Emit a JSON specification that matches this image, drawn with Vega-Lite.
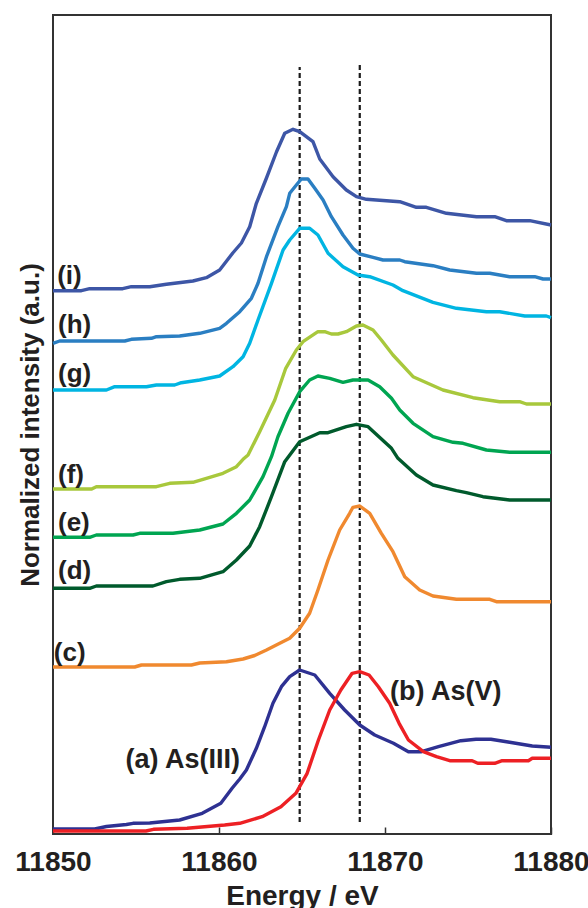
{
  "$schema": "https://vega.github.io/schema/vega-lite/v6.json",
  "width": 498,
  "height": 819,
  "autosize": {"type": "none"},
  "padding": {"left": 53, "top": 15, "right": 37, "bottom": 74},
  "background": "white",
  "config": {
    "view": {"stroke": "#333333", "strokeWidth": 2},
    "font": "Liberation Sans"
  },
  "datasets": {
    "curves": [
      {"s":"i","E":11850.00,"v":543.3},{"s":"i","E":11851.71,"v":543.3},{"s":"i","E":11852.21,"v":545.3},{"s":"i","E":11854.20,"v":545.3},{"s":"i","E":11854.72,"v":547.3},{"s":"i","E":11855.83,"v":547.3},{"s":"i","E":11856.83,"v":549.7},{"s":"i","E":11858.43,"v":553},{"s":"i","E":11859.24,"v":556.3},{"s":"i","E":11860.04,"v":564},{"s":"i","E":11860.83,"v":581},{"s":"i","E":11861.35,"v":591},{"s":"i","E":11861.85,"v":607.3},{"s":"i","E":11862.25,"v":630.7},{"s":"i","E":11862.86,"v":656},{"s":"i","E":11863.46,"v":682},{"s":"i","E":11863.96,"v":700.7},{"s":"i","E":11864.46,"v":704.7},{"s":"i","E":11864.86,"v":702.3},{"s":"i","E":11865.66,"v":692.3},{"s":"i","E":11866.07,"v":675},{"s":"i","E":11866.87,"v":657.3},{"s":"i","E":11867.67,"v":644},{"s":"i","E":11868.28,"v":637.3},{"s":"i","E":11868.88,"v":634.7},{"s":"i","E":11869.48,"v":634},{"s":"i","E":11870.89,"v":632.3},{"s":"i","E":11871.89,"v":626.7},{"s":"i","E":11872.49,"v":626.7},{"s":"i","E":11873.70,"v":620.7},{"s":"i","E":11875.51,"v":617.3},{"s":"i","E":11876.61,"v":617.3},{"s":"i","E":11877.31,"v":613.3},{"s":"i","E":11878.72,"v":613.3},{"s":"i","E":11880.00,"v":609},
      {"s":"h","E":11850.00,"v":490.7},{"s":"h","E":11850.40,"v":493},{"s":"h","E":11854.32,"v":493},{"s":"h","E":11854.72,"v":494.7},{"s":"h","E":11855.93,"v":495.7},{"s":"h","E":11856.23,"v":497.3},{"s":"h","E":11857.63,"v":498},{"s":"h","E":11858.84,"v":500.7},{"s":"h","E":11860.04,"v":505.7},{"s":"h","E":11860.45,"v":510.7},{"s":"h","E":11861.25,"v":522.3},{"s":"h","E":11861.95,"v":535.7},{"s":"h","E":11862.35,"v":550.7},{"s":"h","E":11862.86,"v":577.3},{"s":"h","E":11863.55,"v":607.3},{"s":"h","E":11864.06,"v":627.3},{"s":"h","E":11864.26,"v":640.7},{"s":"h","E":11864.66,"v":649},{"s":"h","E":11864.96,"v":655},{"s":"h","E":11865.36,"v":655},{"s":"h","E":11865.77,"v":645.7},{"s":"h","E":11866.27,"v":634},{"s":"h","E":11866.77,"v":617.3},{"s":"h","E":11867.47,"v":599},{"s":"h","E":11868.07,"v":585.7},{"s":"h","E":11868.48,"v":580},{"s":"h","E":11869.28,"v":576.7},{"s":"h","E":11869.88,"v":574},{"s":"h","E":11870.89,"v":574},{"s":"h","E":11871.19,"v":572.3},{"s":"h","E":11872.89,"v":568.3},{"s":"h","E":11873.90,"v":564},{"s":"h","E":11875.51,"v":560.7},{"s":"h","E":11876.31,"v":560.7},{"s":"h","E":11877.51,"v":557.3},{"s":"h","E":11879.02,"v":557.3},{"s":"h","E":11879.52,"v":555},{"s":"h","E":11880.00,"v":555},
      {"s":"g","E":11850.00,"v":444},{"s":"g","E":11853.22,"v":444},{"s":"g","E":11853.72,"v":447.3},{"s":"g","E":11855.63,"v":447.3},{"s":"g","E":11856.23,"v":449},{"s":"g","E":11857.33,"v":449},{"s":"g","E":11857.73,"v":451.3},{"s":"g","E":11858.84,"v":454},{"s":"g","E":11860.04,"v":458},{"s":"g","E":11860.84,"v":467.3},{"s":"g","E":11861.45,"v":477.3},{"s":"g","E":11861.85,"v":490.7},{"s":"g","E":11862.35,"v":514},{"s":"g","E":11863.16,"v":550.7},{"s":"g","E":11863.86,"v":584},{"s":"g","E":11864.26,"v":594},{"s":"g","E":11864.86,"v":605.7},{"s":"g","E":11865.46,"v":605.7},{"s":"g","E":11865.96,"v":599},{"s":"g","E":11866.57,"v":580.7},{"s":"g","E":11867.47,"v":567.3},{"s":"g","E":11868.37,"v":559},{"s":"g","E":11869.08,"v":557.3},{"s":"g","E":11870.48,"v":549},{"s":"g","E":11871.08,"v":543.3},{"s":"g","E":11872.89,"v":531.7},{"s":"g","E":11874.30,"v":525.7},{"s":"g","E":11876.11,"v":522.3},{"s":"g","E":11876.91,"v":522.3},{"s":"g","E":11878.42,"v":518},{"s":"g","E":11879.72,"v":518},{"s":"g","E":11880.00,"v":516.3},
      {"s":"f","E":11850.00,"v":345},{"s":"f","E":11852.33,"v":345},{"s":"f","E":11852.61,"v":347.3},{"s":"f","E":11856.23,"v":347.3},{"s":"f","E":11857.03,"v":350.7},{"s":"f","E":11858.43,"v":351.7},{"s":"f","E":11859.24,"v":355.7},{"s":"f","E":11860.24,"v":360.7},{"s":"f","E":11861.05,"v":367.3},{"s":"f","E":11861.45,"v":374.7},{"s":"f","E":11861.75,"v":379},{"s":"f","E":11862.45,"v":402.3},{"s":"f","E":11863.36,"v":434},{"s":"f","E":11864.02,"v":465.7},{"s":"f","E":11864.66,"v":484},{"s":"f","E":11865.06,"v":492.3},{"s":"f","E":11865.96,"v":502.3},{"s":"f","E":11866.37,"v":502.3},{"s":"f","E":11866.77,"v":500},{"s":"f","E":11867.17,"v":500},{"s":"f","E":11867.67,"v":502.3},{"s":"f","E":11868.28,"v":508},{"s":"f","E":11868.67,"v":509},{"s":"f","E":11869.28,"v":504},{"s":"f","E":11869.78,"v":494},{"s":"f","E":11870.48,"v":479},{"s":"f","E":11871.69,"v":457.3},{"s":"f","E":11873.49,"v":444},{"s":"f","E":11875.30,"v":436.3},{"s":"f","E":11876.91,"v":432.3},{"s":"f","E":11878.11,"v":432.3},{"s":"f","E":11878.52,"v":430},{"s":"f","E":11880.00,"v":430},
      {"s":"e","E":11850.00,"v":296.7},{"s":"e","E":11852.21,"v":296.7},{"s":"e","E":11852.61,"v":299},{"s":"e","E":11854.82,"v":299},{"s":"e","E":11855.22,"v":300.7},{"s":"e","E":11857.23,"v":300.7},{"s":"e","E":11858.84,"v":304},{"s":"e","E":11860.24,"v":310},{"s":"e","E":11861.05,"v":320.7},{"s":"e","E":11861.85,"v":334},{"s":"e","E":11862.65,"v":357.3},{"s":"e","E":11863.16,"v":377.3},{"s":"e","E":11863.55,"v":397.3},{"s":"e","E":11864.16,"v":420.7},{"s":"e","E":11864.86,"v":442.3},{"s":"e","E":11865.46,"v":454},{"s":"e","E":11865.96,"v":458},{"s":"e","E":11866.67,"v":455.7},{"s":"e","E":11867.47,"v":451.7},{"s":"e","E":11868.07,"v":454},{"s":"e","E":11868.98,"v":454},{"s":"e","E":11869.68,"v":447.3},{"s":"e","E":11870.39,"v":435.7},{"s":"e","E":11870.89,"v":424},{"s":"e","E":11871.69,"v":410.7},{"s":"e","E":11872.89,"v":397.3},{"s":"e","E":11874.10,"v":391.7},{"s":"e","E":11874.70,"v":390.7},{"s":"e","E":11876.11,"v":384},{"s":"e","E":11877.51,"v":381.7},{"s":"e","E":11880.00,"v":381.7},
      {"s":"d","E":11850.00,"v":245.7},{"s":"d","E":11852.21,"v":245.7},{"s":"d","E":11852.61,"v":248},{"s":"d","E":11856.02,"v":248},{"s":"d","E":11856.83,"v":252.3},{"s":"d","E":11857.63,"v":254.7},{"s":"d","E":11858.84,"v":255.7},{"s":"d","E":11860.24,"v":262.3},{"s":"d","E":11861.05,"v":274},{"s":"d","E":11861.85,"v":288},{"s":"d","E":11862.45,"v":307.3},{"s":"d","E":11863.16,"v":337.3},{"s":"d","E":11863.96,"v":372.3},{"s":"d","E":11864.86,"v":392.3},{"s":"d","E":11866.07,"v":401.3},{"s":"d","E":11866.57,"v":401.3},{"s":"d","E":11867.67,"v":407.3},{"s":"d","E":11868.28,"v":409.7},{"s":"d","E":11868.98,"v":407.3},{"s":"d","E":11870.39,"v":385.7},{"s":"d","E":11870.78,"v":375.7},{"s":"d","E":11871.89,"v":359},{"s":"d","E":11872.89,"v":349},{"s":"d","E":11874.30,"v":343.3},{"s":"d","E":11874.90,"v":341.3},{"s":"d","E":11875.90,"v":337.3},{"s":"d","E":11877.51,"v":334},{"s":"d","E":11880.00,"v":334},
      {"s":"c","E":11850.00,"v":167},{"s":"c","E":11854.92,"v":167},{"s":"c","E":11855.33,"v":169},{"s":"c","E":11858.34,"v":169},{"s":"c","E":11858.84,"v":171},{"s":"c","E":11860.45,"v":172.3},{"s":"c","E":11861.45,"v":175},{"s":"c","E":11862.15,"v":178.5},{"s":"c","E":11862.86,"v":184},{"s":"c","E":11863.66,"v":190.7},{"s":"c","E":11864.26,"v":195.7},{"s":"c","E":11864.86,"v":205.7},{"s":"c","E":11865.46,"v":220.7},{"s":"c","E":11865.96,"v":244},{"s":"c","E":11866.57,"v":274},{"s":"c","E":11867.27,"v":304},{"s":"c","E":11867.87,"v":320.7},{"s":"c","E":11868.07,"v":326.7},{"s":"c","E":11868.48,"v":328},{"s":"c","E":11869.08,"v":320.7},{"s":"c","E":11869.78,"v":300.7},{"s":"c","E":11870.48,"v":282.3},{"s":"c","E":11871.19,"v":257.3},{"s":"c","E":11872.09,"v":244},{"s":"c","E":11872.89,"v":238},{"s":"c","E":11874.30,"v":234.7},{"s":"c","E":11876.31,"v":234.7},{"s":"c","E":11876.71,"v":232.3},{"s":"c","E":11880.00,"v":232.3},
      {"s":"a","E":11850.00,"v":5},{"s":"a","E":11852.51,"v":5},{"s":"a","E":11853.22,"v":7.5},{"s":"a","E":11854.42,"v":9.5},{"s":"a","E":11854.82,"v":10.7},{"s":"a","E":11855.83,"v":11},{"s":"a","E":11857.63,"v":14},{"s":"a","E":11858.99,"v":20.7},{"s":"a","E":11860.11,"v":30.7},{"s":"a","E":11860.80,"v":46},{"s":"a","E":11861.25,"v":55},{"s":"a","E":11861.65,"v":64},{"s":"a","E":11862.25,"v":85.7},{"s":"a","E":11862.75,"v":107.3},{"s":"a","E":11863.25,"v":130.7},{"s":"a","E":11863.76,"v":147.3},{"s":"a","E":11864.26,"v":157.3},{"s":"a","E":11864.86,"v":164},{"s":"a","E":11865.77,"v":159},{"s":"a","E":11866.67,"v":140.7},{"s":"a","E":11867.57,"v":124},{"s":"a","E":11868.48,"v":109},{"s":"a","E":11869.38,"v":99},{"s":"a","E":11870.51,"v":90.7},{"s":"a","E":11871.41,"v":82.3},{"s":"a","E":11872.20,"v":82.3},{"s":"a","E":11873.22,"v":87.3},{"s":"a","E":11874.57,"v":93.3},{"s":"a","E":11875.48,"v":94.7},{"s":"a","E":11876.38,"v":94.7},{"s":"a","E":11877.51,"v":91.7},{"s":"a","E":11878.87,"v":88},{"s":"a","E":11880.00,"v":86.7},
      {"s":"b","E":11850.00,"v":3},{"s":"b","E":11855.60,"v":3},{"s":"b","E":11856.05,"v":4.7},{"s":"b","E":11858.08,"v":5.7},{"s":"b","E":11860.34,"v":9},{"s":"b","E":11861.25,"v":10.7},{"s":"b","E":11862.60,"v":17.3},{"s":"b","E":11863.73,"v":27.3},{"s":"b","E":11864.63,"v":40.7},{"s":"b","E":11865.31,"v":60.7},{"s":"b","E":11865.99,"v":94},{"s":"b","E":11866.67,"v":124},{"s":"b","E":11867.34,"v":144},{"s":"b","E":11868.02,"v":160.7},{"s":"b","E":11868.48,"v":162.3},{"s":"b","E":11869.04,"v":159},{"s":"b","E":11869.60,"v":147.3},{"s":"b","E":11870.28,"v":130.7},{"s":"b","E":11870.85,"v":110.7},{"s":"b","E":11871.41,"v":94},{"s":"b","E":11872.31,"v":82.3},{"s":"b","E":11873.10,"v":77.3},{"s":"b","E":11873.90,"v":73.3},{"s":"b","E":11875.25,"v":73.3},{"s":"b","E":11875.59,"v":70.7},{"s":"b","E":11876.61,"v":70.7},{"s":"b","E":11877.06,"v":73.3},{"s":"b","E":11878.64,"v":73.3},{"s":"b","E":11878.87,"v":75.7},{"s":"b","E":11880.00,"v":75.7}
    ],
    "refs": [
      {"E": 11864.86, "v1": 12, "v2": 767},
      {"E": 11868.48, "v1": 12, "v2": 769}
    ],
    "tags": [
      {"t": "(i)", "E": 11850.25, "v": 550},
      {"t": "(h)", "E": 11850.3, "v": 501.5},
      {"t": "(g)", "E": 11850.3, "v": 452},
      {"t": "(f)", "E": 11850.3, "v": 351},
      {"t": "(e)", "E": 11850.3, "v": 303},
      {"t": "(d)", "E": 11850.3, "v": 255},
      {"t": "(c)", "E": 11850.05, "v": 173}
    ],
    "names": [
      {"t": "(a) As(III)", "E": 11857.81, "v": 66},
      {"t": "(b) As(V)", "E": 11873.66, "v": 134}
    ]
  },
  "encoding": {
    "x": {
      "field": "E", "type": "quantitative",
      "scale": {"domain": [11850, 11880], "nice": false, "zero": false},
      "axis": {
        "values": [11850, 11860, 11870, 11880],
        "format": "d",
        "grid": false, "domain": false,
        "ticks": true, "tickSize": -7, "tickColor": "#333333", "tickWidth": 1.5,
        "labelFont": "Liberation Sans", "labelFontWeight": "bold", "labelFontSize": 28,
        "labelColor": "#231f20", "labelPadding": 21, "labelFlush": false,
        "title": "Energy / eV", "titleFont": "Liberation Sans", "titleFontWeight": "bold",
        "titleFontSize": 28, "titleColor": "#231f20", "titlePadding": 6
      }
    }
  },
  "layer": [
    {
      "data": {"name": "refs"},
      "mark": {"type": "rule", "color": "#1a1a1a", "strokeWidth": 2.2, "strokeDash": [5, 3]},
      "encoding": {
        "y": {"field": "v1", "type": "quantitative", "scale": {"domain": [0, 819], "nice": false, "zero": false},
              "axis": {"labels": false, "ticks": false, "domain": false, "grid": false,
                       "title": "Normalized intensity (a.u.)", "titleFont": "Liberation Sans",
                       "titleFontWeight": "bold", "titleFontSize": 26, "titleColor": "#231f20", "titlePadding": 10}},
        "y2": {"field": "v2"}
      }
    },
    {
      "data": {"name": "curves"},
      "mark": {"type": "line", "strokeWidth": 3.4, "interpolate": "linear", "strokeJoin": "round", "strokeCap": "butt"},
      "encoding": {
        "y": {"field": "v", "type": "quantitative"},
        "color": {
          "field": "s", "type": "nominal", "legend": null,
          "scale": {
            "domain": ["a", "b", "c", "d", "e", "f", "g", "h", "i"],
            "range": ["#2e3192", "#ed2024", "#f0892f", "#005a2c", "#00a551", "#a8c83c", "#00b5e2", "#2a7ec2", "#3d56a6"]
          }
        },
        "order": {"field": "E", "type": "quantitative"}
      }
    },
    {
      "data": {"name": "tags"},
      "mark": {"type": "text", "align": "left", "baseline": "alphabetic", "font": "Liberation Sans", "fontWeight": "bold", "fontSize": 26, "color": "#231f20"},
      "encoding": {
        "y": {"field": "v", "type": "quantitative"},
        "text": {"field": "t"}
      }
    },
    {
      "data": {"name": "names"},
      "mark": {"type": "text", "align": "center", "baseline": "alphabetic", "font": "Liberation Sans", "fontWeight": "bold", "fontSize": 27, "color": "#231f20"},
      "encoding": {
        "y": {"field": "v", "type": "quantitative"},
        "text": {"field": "t"}
      }
    }
  ]
}
